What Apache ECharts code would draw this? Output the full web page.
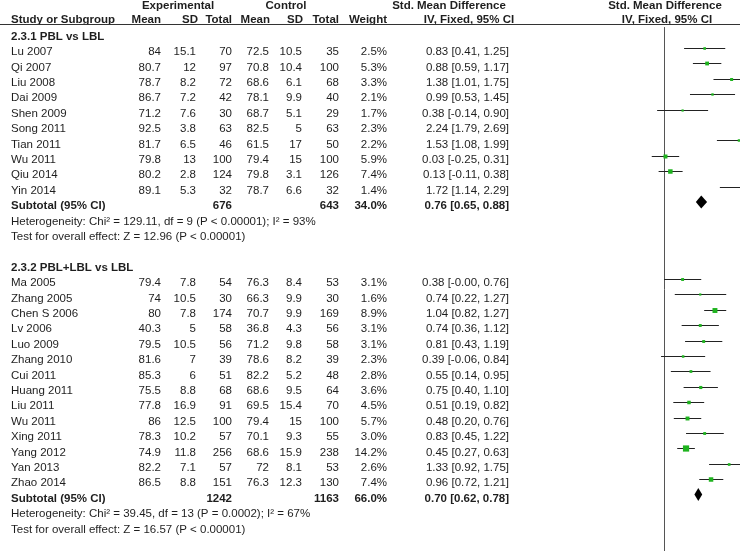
<!DOCTYPE html>
<html><head><meta charset="utf-8">
<script src="https://cdn.jsdelivr.net/npm/echarts@6/dist/echarts.min.js"></script>
<style>html,body{margin:0;padding:0;background:#fff}#c{width:740px;height:551px}</style>
</head><body><div id="c"></div><script>
// ---------- data ----------
const g1Title = '2.3.1 PBL vs LBL';
const g1Study = ['Lu 2007','Qi 2007','Liu 2008','Dai 2009','Shen 2009','Song 2011','Tian 2011','Wu 2011','Qiu 2014','Yin 2014'];
const g1ExpMean = [84, 80.7, 78.7, 86.7, 71.2, 92.5, 81.7, 79.8, 80.2, 89.1];
const g1ExpSD = [15.1, 12, 8.2, 7.2, 7.6, 3.8, 6.5, 13, 2.8, 5.3];
const g1ExpN = [70, 97, 72, 42, 30, 63, 46, 100, 124, 32];
const g1CtlMean = [72.5, 70.8, 68.6, 78.1, 68.7, 82.5, 61.5, 79.4, 79.8, 78.7];
const g1CtlSD = [10.5, 10.4, 6.1, 9.9, 5.1, 5, 17, 15, 3.1, 6.6];
const g1CtlN = [35, 100, 68, 40, 29, 63, 50, 100, 126, 32];
const g1Weight = [2.5, 5.3, 3.3, 2.1, 1.7, 2.3, 2.2, 5.9, 7.4, 1.4];
const g1Smd = [0.83, 0.88, 1.38, 0.99, 0.38, 2.24, 1.53, 0.03, 0.13, 1.72];
const g1Lo = [0.41, 0.59, 1.01, 0.53, -0.14, 1.79, 1.08, -0.25, -0.11, 1.14];
const g1Hi = [1.25, 1.17, 1.75, 1.45, 0.90, 2.69, 1.99, 0.31, 0.38, 2.29];
const g1Sub = {expN: 676, ctlN: 643, weight: 34.0, smd: 0.76, lo: 0.65, hi: 0.88};
const g1Het = 'Heterogeneity: Chi² = 129.11, df = 9 (P < 0.00001); I² = 93%';
const g1Test = 'Test for overall effect: Z = 12.96 (P < 0.00001)';

const g2Title = '2.3.2 PBL+LBL vs LBL';
const g2Study = ['Ma 2005','Zhang 2005','Chen S 2006','Lv 2006','Luo 2009','Zhang 2010','Cui 2011','Huang 2011','Liu 2011','Wu 2011','Xing 2011','Yang 2012','Yan 2013','Zhao 2014'];
const g2ExpMean = [79.4, 74, 80, 40.3, 79.5, 81.6, 85.3, 75.5, 77.8, 86, 78.3, 74.9, 82.2, 86.5];
const g2ExpSD = [7.8, 10.5, 7.8, 5, 10.5, 7, 6, 8.8, 16.9, 12.5, 10.2, 11.8, 7.1, 8.8];
const g2ExpN = [54, 30, 174, 58, 56, 39, 51, 68, 91, 100, 57, 256, 57, 151];
const g2CtlMean = [76.3, 66.3, 70.7, 36.8, 71.2, 78.6, 82.2, 68.6, 69.5, 79.4, 70.1, 68.6, 72, 76.3];
const g2CtlSD = [8.4, 9.9, 9.9, 4.3, 9.8, 8.2, 5.2, 9.5, 15.4, 15, 9.3, 15.9, 8.1, 12.3];
const g2CtlN = [53, 30, 169, 56, 58, 39, 48, 64, 70, 100, 55, 238, 53, 130];
const g2Weight = [3.1, 1.6, 8.9, 3.1, 3.1, 2.3, 2.8, 3.6, 4.5, 5.7, 3.0, 14.2, 2.6, 7.4];
const g2Smd = [0.38, 0.74, 1.04, 0.74, 0.81, 0.39, 0.55, 0.75, 0.51, 0.48, 0.83, 0.45, 1.33, 0.96];
const g2Lo = [-0, 0.22, 0.82, 0.36, 0.43, -0.06, 0.14, 0.40, 0.19, 0.20, 0.45, 0.27, 0.92, 0.72];
const g2Hi = [0.76, 1.27, 1.27, 1.12, 1.19, 0.84, 0.95, 1.10, 0.82, 0.76, 1.22, 0.63, 1.75, 1.21];
const g2Sub = {expN: 1242, ctlN: 1163, weight: 66.0, smd: 0.70, lo: 0.62, hi: 0.78};
const g2Het = 'Heterogeneity: Chi² = 39.45, df = 13 (P = 0.0002); I² = 67%';
const g2Test = 'Test for overall effect: Z = 16.57 (P < 0.00001)';

// visible part of the effect-size axis (plot is cropped at the right edge)
const xMin = -2;
const xMax = 1.551;

// ---------- build rows ----------
const groups = [
  {title: g1Title, study: g1Study, em: g1ExpMean, es: g1ExpSD, en: g1ExpN, cm: g1CtlMean, cs: g1CtlSD, cn: g1CtlN, w: g1Weight, smd: g1Smd, lo: g1Lo, hi: g1Hi, sub: g1Sub, het: g1Het, test: g1Test},
  {title: g2Title, study: g2Study, em: g2ExpMean, es: g2ExpSD, en: g2ExpN, cm: g2CtlMean, cs: g2CtlSD, cn: g2CtlN, w: g2Weight, smd: g2Smd, lo: g2Lo, hi: g2Hi, sub: g2Sub, het: g2Het, test: g2Test}
];
const fmt2 = v => (Object.is(v, -0) ? '-0.00' : v.toFixed(2));
const ciText = (s, l, h) => fmt2(s) + ' [' + fmt2(l) + ', ' + fmt2(h) + ']';

const rows = [];
const studies = [];
const diamonds = [];
let r = 0;
groups.forEach((g, gi) => {
  rows.push({row: r++, kind: 'title', label: g.title});
  g.study.forEach((s, i) => {
    rows.push({row: r, kind: 'study', label: s,
      cols: [String(g.em[i]), String(g.es[i]), String(g.en[i]), String(g.cm[i]), String(g.cs[i]), String(g.cn[i]), g.w[i].toFixed(1) + '%', ciText(g.smd[i], g.lo[i], g.hi[i])]});
    studies.push([g.smd[i], r, g.lo[i], g.hi[i], g.w[i]]);
    r++;
  });
  rows.push({row: r, kind: 'sub', label: 'Subtotal (95% CI)',
    cols: ['', '', String(g.sub.expN), '', '', String(g.sub.ctlN), g.sub.weight.toFixed(1) + '%', ciText(g.sub.smd, g.sub.lo, g.sub.hi)]});
  diamonds.push([g.sub.smd, r, g.sub.lo, g.sub.hi]);
  r++;
  rows.push({row: r++, kind: 'note', label: g.het});
  rows.push({row: r++, kind: 'note', label: g.test});
  if (gi === 0) r++;
});

// ---------- layout ----------
const FONT = '"Liberation Sans", Arial, sans-serif';
const FS = '11.5px ';
const colRight = [161, 196, 232, 269, 302, 339, 387, 509];
const labelX = 11;
const TXT = '#1e1e1e';
const TEXT_DY = 4;   // text sits a little below the marks of its row
const ROW_H = 15.4;

const chart = echarts.init(document.getElementById('c'), null, {renderer: 'canvas'});

function txt(x, y, s, align, bold) {
  return {type: 'text', x: x, y: y, style: {text: s, fill: TXT, font: (bold ? 'bold ' : '') + FS + FONT, textAlign: align, textVerticalAlign: 'middle'}};
}

chart.setOption({
  animation: false,
  grid: {left: 566, right: 0, top: 1.8, height: 35.5 * ROW_H},
  xAxis: {type: 'value', min: xMin, max: xMax, show: false},
  yAxis: {type: 'value', inverse: true, min: -2, max: 33.5, show: false},
  series: [
    {
      type: 'custom', clip: false, silent: true,
      data: [[0, -2]],
      renderItem: function (params, api) {
        const y1 = api.coord([0, -2])[1] + TEXT_DY;
        const y2 = api.coord([0, -1.06])[1] + TEXT_DY;
        const yl = Math.round(api.coord([0, -0.53])[1]) + 0.5;
        const zx = api.coord([0, 0])[0];
        return {type: 'group', children: [
          txt(178, y1, 'Experimental', 'center', true),
          txt(286, y1, 'Control', 'center', true),
          txt(449, y1, 'Std. Mean Difference', 'center', true),
          txt(zx + 1, y1, 'Std. Mean Difference', 'center', true),
          txt(labelX, y2, 'Study or Subgroup', 'left', true),
          txt(colRight[0], y2, 'Mean', 'right', true),
          txt(colRight[1] + 2, y2, 'SD', 'right', true),
          txt(colRight[2], y2, 'Total', 'right', true),
          txt(colRight[3] + 1, y2, 'Mean', 'right', true),
          txt(colRight[4] + 1, y2, 'SD', 'right', true),
          txt(colRight[5], y2, 'Total', 'right', true),
          txt(colRight[6], y2, 'Weight', 'right', true),
          txt(469, y2, 'IV, Fixed, 95% CI', 'center', true),
          txt(zx + 3, y2, 'IV, Fixed, 95% CI', 'center', true),
          {type: 'line', shape: {x1: 0, y1: yl, x2: 740, y2: yl}, style: {stroke: '#333', lineWidth: 1}}
        ]};
      }
    },
    {
      type: 'custom', clip: false, silent: true,
      data: rows.map(o => [0, o.row]),
      renderItem: function (params, api) {
        const o = rows[params.dataIndex];
        const y = api.coord([0, api.value(1)])[1] + TEXT_DY;
        const bold = o.kind === 'title' || o.kind === 'sub';
        const ch = [txt(labelX, y, o.label, 'left', bold)];
        if (o.cols) o.cols.forEach((s, k) => { if (s) ch.push(txt(colRight[k], y, s, 'right', bold)); });
        return {type: 'group', children: ch};
      }
    },
    {
      type: 'custom', clip: false, silent: true,
      data: [[0, -0.36, 34]],
      renderItem: function (params, api) {
        const p1 = api.coord([api.value(0), api.value(1)]);
        const p2 = api.coord([api.value(0), api.value(2)]);
        const x = Math.round(p1[0]) + 0.5;
        return {type: 'line', shape: {x1: x, y1: p1[1], x2: x, y2: p2[1]}, style: {stroke: '#555', lineWidth: 1}};
      }
    },
    {
      type: 'custom', clip: false, silent: true,
      data: studies,
      renderItem: function (params, api) {
        const c = api.coord([api.value(0), api.value(1)]);
        const a = api.coord([api.value(2), api.value(1)]);
        const b = api.coord([api.value(3), api.value(1)]);
        const y = Math.round(c[1]) + 0.5;
        const s = Math.max(2.2, 1.65 * Math.sqrt(api.value(4)));
        return {type: 'group', children: [
          {type: 'line', shape: {x1: a[0], y1: y, x2: b[0], y2: y}, style: {stroke: '#222', lineWidth: 1}},
          {type: 'rect', shape: {x: c[0] - s / 2, y: y - s / 2, width: s, height: s}, style: {fill: '#1fb31f'}}
        ]};
      }
    },
    {
      type: 'custom', clip: false, silent: true,
      data: diamonds,
      renderItem: function (params, api) {
        const c = api.coord([api.value(0), api.value(1)]);
        const a = api.coord([api.value(2), api.value(1)]);
        const b = api.coord([api.value(3), api.value(1)]);
        const h = 6.5;
        return {type: 'polygon', shape: {points: [[a[0], c[1]], [c[0], c[1] - h], [b[0], c[1]], [c[0], c[1] + h]]}, style: {fill: '#000'}};
      }
    }
  ]
});
</script></body></html>
